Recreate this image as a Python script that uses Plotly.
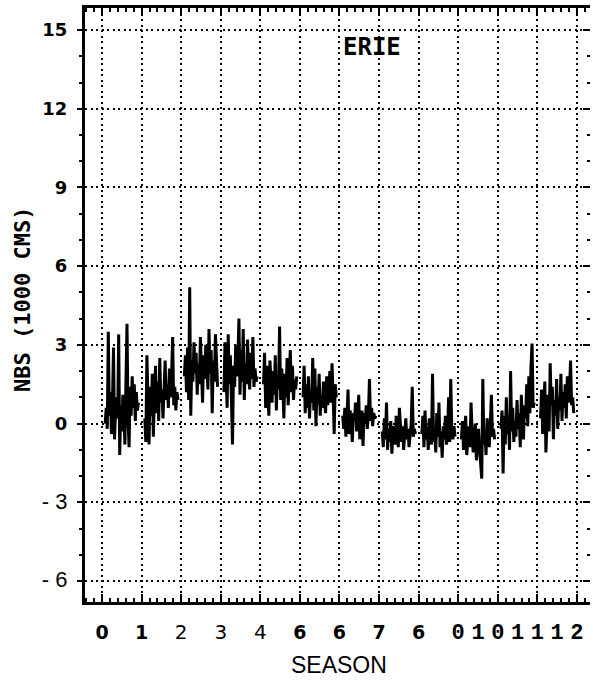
import plotly.graph_objects as go

# ---------------- data ----------------
season_1 = [0.0, 0.6, -0.2, 3.5, 0.3, 1.2, -0.4, 0.8, 2.9, -0.6, 0.5, 1.0, 0.2, 3.4, -1.2, 0.7,
            -0.3, 1.1, 0.4, -0.8, 1.6, 3.8, 0.2, -0.9, 1.4, 0.3, 1.8, 0.6, 1.5, 0.1, 1.2, 0.5, 0.8]
season_2 = [0.2, -0.7, 2.6, 0.5, -0.8, 1.4, 0.3, 1.9, -0.5, 1.0, 2.2, 0.4, 1.6, 0.1, 2.5, 0.8,
            1.3, 0.2, 1.7, 2.4, 0.9, 1.5, 0.6, 2.1, 1.0, 1.8, 3.3, 0.7, 1.4, 0.5, 1.2, 0.9]
season_3 = [1.8, 2.6, 1.2, 2.9, 0.9, 5.2, 0.3, 2.4, 1.6, 3.1, 1.9, 2.7, 1.1, 2.3, 1.5, 3.3,
            2.0, 0.8, 2.6, 1.7, 3.0, 2.2, 1.3, 3.6, 1.9, 2.8, 0.4, 2.4, 1.6, 3.4, 2.1, 1.4]
season_4 = [1.2, 3.1, 2.0, 0.6, 3.4, 1.5, 2.6, 0.8, -0.8, 2.2, 1.4, 3.0, 1.8, 2.5, 4.0, 1.1,
            2.8, 1.6, 3.6, 0.9, 2.3, 1.5, 3.2, 2.0, 1.3, 2.7, 1.7, 3.3, 1.4, 2.1, 1.6, 1.8]
season_5 = [1.5, 2.7, 0.6, 2.2, 1.2, 0.3, 2.4, 1.6, 0.8, 2.0, 1.1, 2.6, 0.5, 1.8, 1.3, 3.7,
            0.9, 2.1, 1.4, 0.2, 1.9, 1.0, 2.5, 0.7, 1.6, 2.8, 1.2, 2.2, 0.9, 1.7, 1.3, 1.8]
season_6 = [1.0, 2.2, 0.4, 1.5, 0.6, 1.8, 0.2, 1.2, 0.8, 2.5, 0.5, 2.1, -0.1, 1.4, 0.7, 1.9,
            0.3, 1.1, 0.6, 1.6, 0.9, 0.4, 1.8, 0.7, 1.3, 2.0, 0.8, 2.3, 1.1, -0.4, 1.5, 1.0]
season_7 = [0.3, -0.2, 0.6, -0.5, 0.2, 1.3, -0.4, 0.5, 0.0, -0.7, 0.4, 0.1, 0.8, -0.3, 0.3, 1.1,
            -0.6, 0.2, 0.5, -0.85, 0.4, 0.0, 0.7, -0.2, 0.3, 1.7, 0.1, 0.6, -0.1, 0.4, 0.2, 0.3]
season_8 = [-0.3, -0.9, 0.2, -0.6, 0.8, -1.0, -0.2, -0.7, 0.1, -1.15, -0.4, -0.1, -0.8, 0.3, -0.5, -0.9,
            0.6, -0.3, -0.7, -0.1, -1.0, -0.4, 0.2, -0.6, -0.2, -0.9, -0.4, 0.0, 1.4, -0.5, -0.2, -0.4]
season_9 = [-0.4, 0.3, -0.9, 0.5, -0.6, -0.1, -1.0, 0.2, -0.5, -0.8, 1.9, -0.7, -0.2, -1.1, 0.4, -0.5,
            0.8, -0.9, -0.3, -1.3, -0.1, -0.6, 0.3, -0.8, -0.4, 1.0, -0.7, 1.7, -0.3, -0.6, -0.1, -0.5]
season_10 = [-0.6, 0.1, -1.0, -0.4, 0.3, -1.2, -0.5, -0.1, -0.9, 0.8, -0.3, -1.1, -0.6, 0.0, -1.4, -0.7,
             -0.2, -1.0, -1.6, -2.1, 1.7, -0.8, -0.3, -1.2, 0.2, -0.6, -0.9, 0.0, 1.1, -0.5, -0.2, -0.6]
season_11 = [-0.2, 0.5, -1.9, 0.3, -0.8, 1.0, -0.4, 0.2, -1.0, 2.0, -0.3, 0.6, -0.7, 0.1, -0.5, 0.9,
             -0.2, 0.4, -0.9, 1.1, 0.0, -0.6, 0.7, 0.2, 1.5, -0.1, 1.8, 0.4, 2.2, 3.05, 0.6, 0.8]
season_12 = [0.2, 1.3, -0.4, 0.8, 1.6, -1.1, 0.5, 1.1, -0.3, 2.3, 0.7, 1.4, -0.6, 0.9, 0.3, 1.7,
             -0.2, 1.0, 0.5, 1.9, 0.1, 1.2, 0.6, 1.5, 0.2, 1.8, 0.8, 1.3, 2.4, 0.7, 1.0, 0.4]

seasons = [season_1, season_2, season_3, season_4, season_5, season_6,
           season_7, season_8, season_9, season_10, season_11, season_12]

y_tick_vals = [-6, -3, 0, 3, 6, 9, 12, 15]
y_tick_text = ["-6", "-3", "0", "3", "6", "9", "12", "15"]

x_grid_vals = list(range(13))
x_tick_vals = [0, 1, 2, 3, 4, 5, 6, 7, 8, 9, 9.5, 10, 10.5, 11, 11.5, 12]
x_tick_text = ["0", "1", "2", "3", "4", "6", "6", "7", "6", "0", "1", "0", "1", "1", "1", "2"]

station = "ERIE"
y_title = "NBS (1000 CMS)"
x_title = "SEASON"

# ---------------- build series (each season spans most of one unit) ----------------
xs, ys = [], []
for k, vals in enumerate(seasons):
    n = len(vals)
    for i, v in enumerate(vals):
        xs.append(k + 0.08 + 0.84 * i / (n - 1))
        ys.append(v)
    xs.append(None)
    ys.append(None)

# label styling mimicking the mixed fonts of the scanned original
def ylab(t):
    if t.startswith("-"):
        return '<span style="font-family:Liberation Sans;font-weight:normal;font-size:22px">%s</span>' % t.replace("-", "- ")
    return t

def xlab(i, t):
    if i < 2:
        return '<span style="font-family:DejaVu Sans;font-weight:900;font-size:19px">%s</span>' % t
    if i < 5:
        return '<span style="font-family:DejaVu Sans;font-weight:normal;font-size:20px">%s</span>' % t
    if i < 9:
        return '<span style="font-family:DejaVu Sans;font-weight:bold;font-size:19px">%s</span>' % t
    return t

fig = go.Figure()
fig.add_trace(go.Scatter(x=xs, y=ys, mode="lines", connectgaps=False,
                         line=dict(color="black", width=3), showlegend=False,
                         hoverinfo="skip"))
# helper traces so the overlay axes are drawn
fig.add_trace(go.Scatter(x=[0], y=[None], xaxis="x2", yaxis="y", mode="lines", showlegend=False))
fig.add_trace(go.Scatter(x=[0], y=[None], xaxis="x", yaxis="y2", mode="lines", showlegend=False))

xr = [-0.43, 12.33]
yr = [-6.8, 15.84]
griddash = "2px,3.5px"

fig.update_layout(
    width=593, height=681,
    margin=dict(l=85, r=3, t=8, b=79),
    paper_bgcolor="white", plot_bgcolor="white",
    showlegend=False,
    xaxis=dict(
        range=xr, tickvals=x_grid_vals, showticklabels=False,
        ticks="inside", ticklen=8, tickwidth=2, tickcolor="black",
        showline=True, linewidth=3, linecolor="black", mirror="ticks",
        showgrid=True, gridcolor="black", gridwidth=2, griddash=griddash,
        zeroline=False,
        minor=dict(dtick=0.2, tick0=0, ticks="inside", ticklen=4, tickwidth=1.5,
                   tickcolor="black", showgrid=False),
    ),
    xaxis2=dict(
        range=xr, overlaying="x", anchor="y", side="bottom",
        tickvals=x_tick_vals,
        ticktext=[xlab(i, t) for i, t in enumerate(x_tick_text)],
        tickfont=dict(family="Liberation Mono", size=22, color="black", weight="bold"),
        ticks="", ticklabelstandoff=14,
        showgrid=False, showline=False, zeroline=False,
    ),
    yaxis=dict(
        range=yr, tickvals=y_tick_vals, ticktext=[ylab(t) for t in y_tick_text],
        tickfont=dict(family="DejaVu Sans", size=18, color="black", weight="bold"),
        ticks="outside", ticklen=5, tickwidth=2, tickcolor="black",
        showline=True, linewidth=3, linecolor="black",
        showgrid=True, gridcolor="black", gridwidth=2, griddash=griddash,
        zeroline=False, ticklabelstandoff=6,
        minor=dict(dtick=1, tick0=0, ticks="outside", ticklen=3, tickwidth=1.5,
                   tickcolor="black", showgrid=False),
    ),
    yaxis2=dict(
        range=yr, overlaying="y", anchor="x", side="right",
        tickvals=y_tick_vals, showticklabels=False,
        ticks="inside", ticklen=7, tickwidth=2, tickcolor="black",
        showgrid=False, showline=False, zeroline=False,
        minor=dict(dtick=1, tick0=0, ticks="inside", ticklen=3, tickwidth=1.5,
                   tickcolor="black", showgrid=False),
    ),
    annotations=[
        dict(text=station, xref="paper", yref="paper",
             x=(372 - 85) / 505, y=1 - (47 - 8) / 594, xanchor="center", yanchor="middle",
             showarrow=False,
             font=dict(family="DejaVu Sans Mono", size=24, color="black", weight="bold")),
        dict(text=y_title, xref="paper", yref="paper",
             x=(22 - 85) / 505, y=1 - (300 - 8) / 594, xanchor="center", yanchor="middle",
             textangle=-90, showarrow=False,
             font=dict(family="DejaVu Sans Mono", size=22, color="black", weight="bold")),
        dict(text=x_title, xref="paper", yref="paper",
             x=(339 - 85) / 505, y=1 - (665 - 8) / 594, xanchor="center", yanchor="middle",
             showarrow=False,
             font=dict(family="Liberation Sans", size=23, color="black")),
    ],
)

fig.write_html("out.html")
